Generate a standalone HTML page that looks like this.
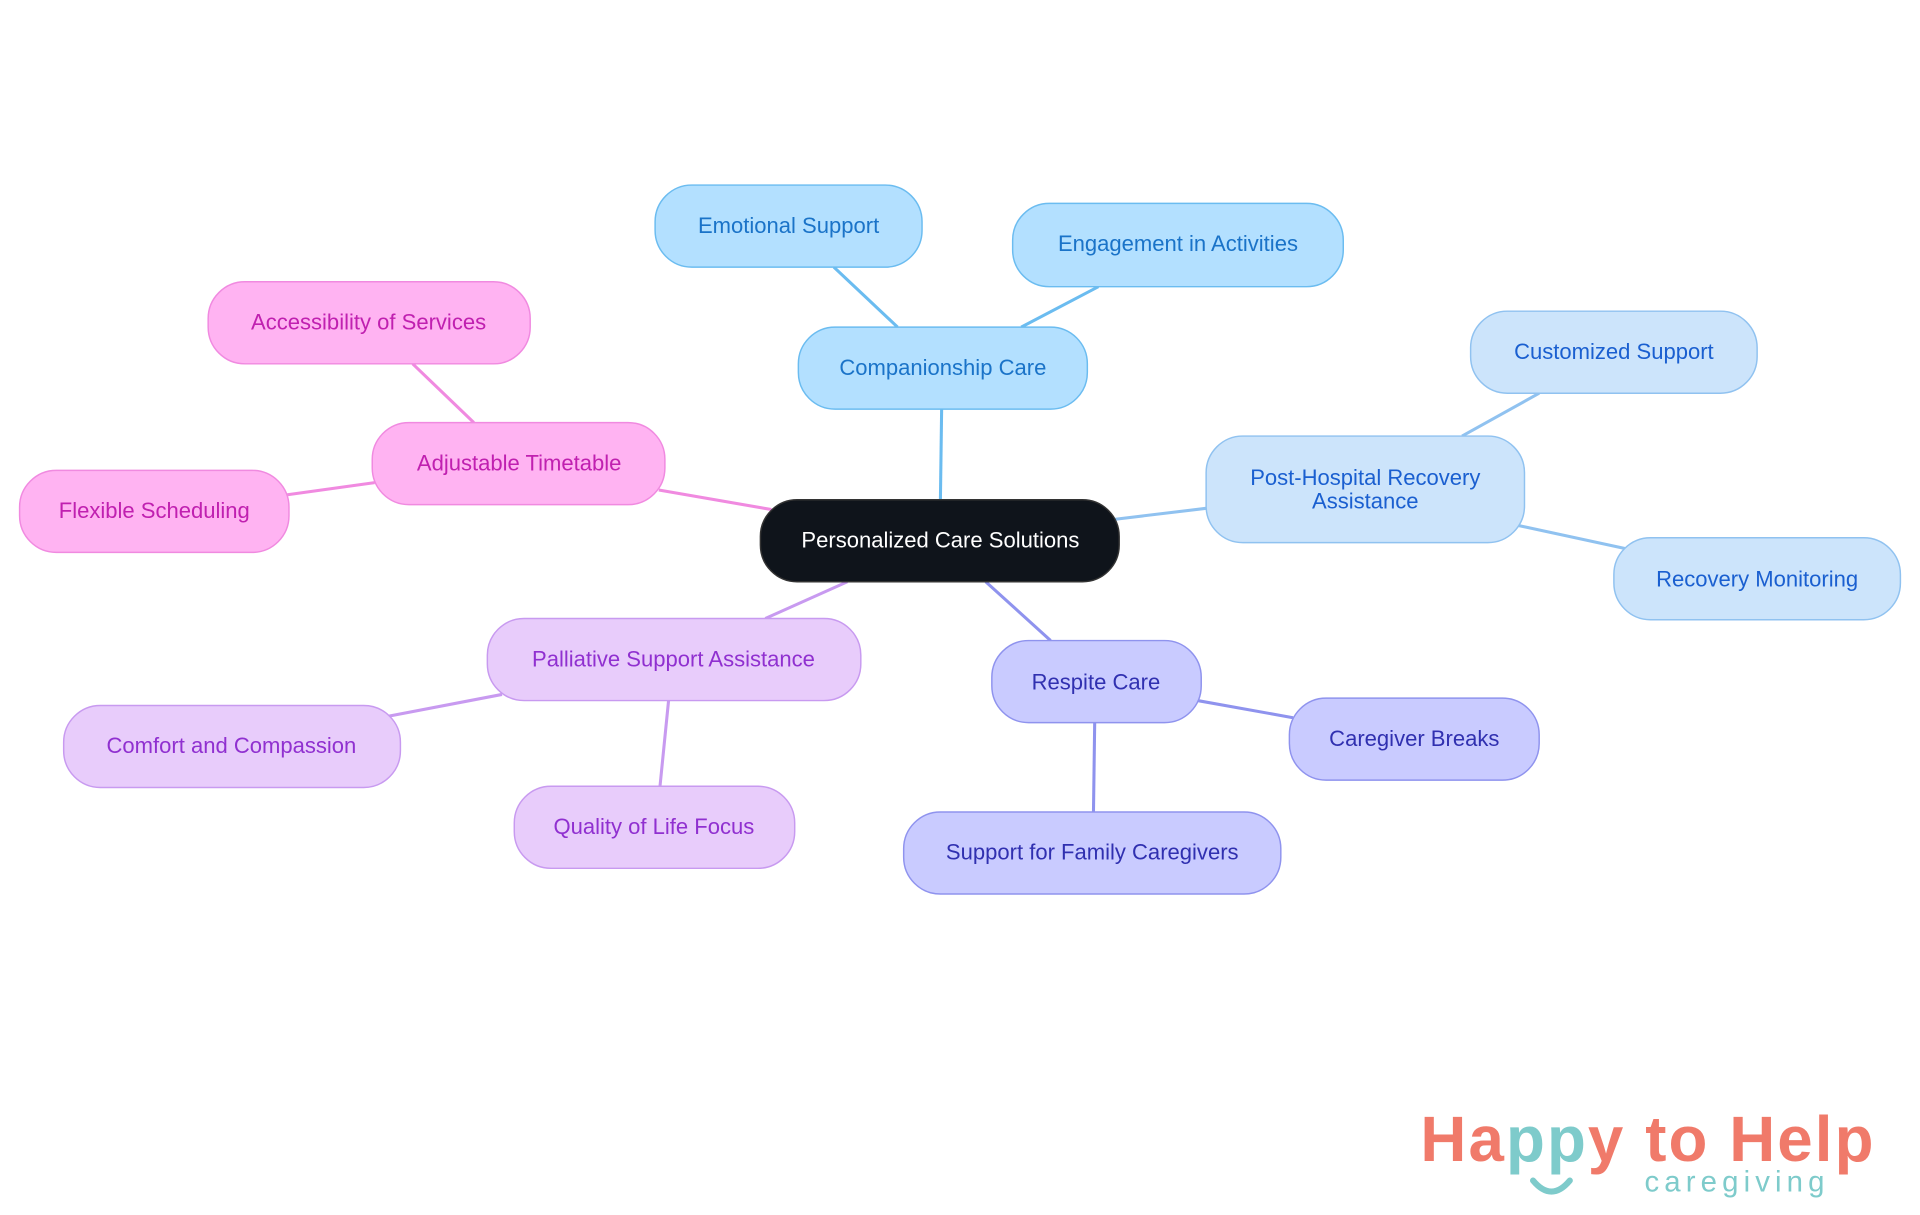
<!DOCTYPE html>
<html><head><meta charset="utf-8"><style>html,body{margin:0;padding:0;background:#fff}svg{display:block}</style></head>
<body>
<svg width="1920" height="1215" viewBox="0 0 1568 992" xmlns="http://www.w3.org/2000/svg" font-family="Liberation Sans, sans-serif" font-size="18">
<g stroke-width="2.5" fill="none">
<line x1="768" y1="408" x2="769" y2="334" stroke="#6bbcf0"/>
<line x1="733" y1="267" x2="681" y2="218" stroke="#6bbcf0"/>
<line x1="834" y1="267" x2="897" y2="234" stroke="#6bbcf0"/>
<line x1="910" y1="424" x2="985" y2="415" stroke="#90c2f0"/>
<line x1="1194" y1="356" x2="1257" y2="321" stroke="#90c2f0"/>
<line x1="1240" y1="429" x2="1328" y2="448" stroke="#90c2f0"/>
<line x1="805" y1="475" x2="858" y2="523" stroke="#8f93ee"/>
<line x1="978" y1="572" x2="1056" y2="586" stroke="#8f93ee"/>
<line x1="894" y1="590" x2="893" y2="663" stroke="#8f93ee"/>
<line x1="692" y1="475" x2="625" y2="505" stroke="#c89af0"/>
<line x1="410" y1="567" x2="316" y2="585" stroke="#c89af0"/>
<line x1="546" y1="572" x2="539" y2="642" stroke="#c89af0"/>
<line x1="630" y1="416" x2="538" y2="400" stroke="#f08ae0"/>
<line x1="387" y1="345" x2="337" y2="297" stroke="#f08ae0"/>
<line x1="306" y1="394" x2="234" y2="404" stroke="#f08ae0"/>
</g>
<g stroke-width="1.2">
<rect x="621" y="408" width="293" height="67" rx="30" fill="#0f141b" stroke="#333"/>
<text x="768" y="447" text-anchor="middle" fill="#fff" stroke="none">Personalized Care Solutions</text>
<g fill="#b3e0ff" stroke="#6bbcf0">
<rect x="652" y="267" width="236" height="67" rx="30"/>
<rect x="535" y="151" width="218" height="67" rx="30"/>
<rect x="827" y="166" width="270" height="68" rx="30"/>
</g>
<g fill="#1a73c8" stroke="none" text-anchor="middle">
<text x="770" y="306">Companionship Care</text>
<text x="644" y="190">Emotional Support</text>
<text x="962" y="205">Engagement in Activities</text>
</g>
<g fill="#cce4fb" stroke="#90c2f0">
<rect x="985" y="356" width="260" height="87" rx="30"/>
<rect x="1201" y="254" width="234" height="67" rx="30"/>
<rect x="1318" y="439" width="234" height="67" rx="30"/>
</g>
<g fill="#1a5fd0" stroke="none" text-anchor="middle">
<text x="1115" y="396">Post-Hospital Recovery</text>
<text x="1115" y="415">Assistance</text>
<text x="1318" y="293">Customized Support</text>
<text x="1435" y="479">Recovery Monitoring</text>
</g>
<g fill="#c9cbff" stroke="#8f93ee">
<rect x="810" y="523" width="171" height="67" rx="30"/>
<rect x="1053" y="570" width="204" height="67" rx="30"/>
<rect x="738" y="663" width="308" height="67" rx="30"/>
</g>
<g fill="#3030b0" stroke="none" text-anchor="middle">
<text x="895" y="563">Respite Care</text>
<text x="1155" y="609">Caregiver Breaks</text>
<text x="892" y="702">Support for Family Caregivers</text>
</g>
<g fill="#e8ccfb" stroke="#c89af0">
<rect x="398" y="505" width="305" height="67" rx="30"/>
<rect x="52" y="576" width="275" height="67" rx="30"/>
<rect x="420" y="642" width="229" height="67" rx="30"/>
</g>
<g fill="#9030d0" stroke="none" text-anchor="middle">
<text x="550" y="544">Palliative Support Assistance</text>
<text x="189" y="615">Comfort and Compassion</text>
<text x="534" y="681">Quality of Life Focus</text>
</g>
<g fill="#ffb3f2" stroke="#f08ae0">
<rect x="304" y="345" width="239" height="67" rx="30"/>
<rect x="170" y="230" width="263" height="67" rx="30"/>
<rect x="16" y="384" width="220" height="67" rx="30"/>
</g>
<g fill="#c020b0" stroke="none" text-anchor="middle">
<text x="424" y="384">Adjustable Timetable</text>
<text x="301" y="269">Accessibility of Services</text>
<text x="126" y="423">Flexible Scheduling</text>
</g>
</g>
<text x="1160" y="948" font-size="52" font-weight="bold" fill="#f07a6a" textLength="370" lengthAdjust="spacing">Ha<tspan fill="#7ecbcb">pp</tspan>y to Help</text>
<path d="M1252 964 q15 18 30 0" stroke="#7ecbcb" stroke-width="5" fill="none" stroke-linecap="round"/>
<text x="1343" y="973" font-size="24" textLength="147" lengthAdjust="spacing" fill="#7ecbcb">caregiving</text>
</svg>
</body></html>
